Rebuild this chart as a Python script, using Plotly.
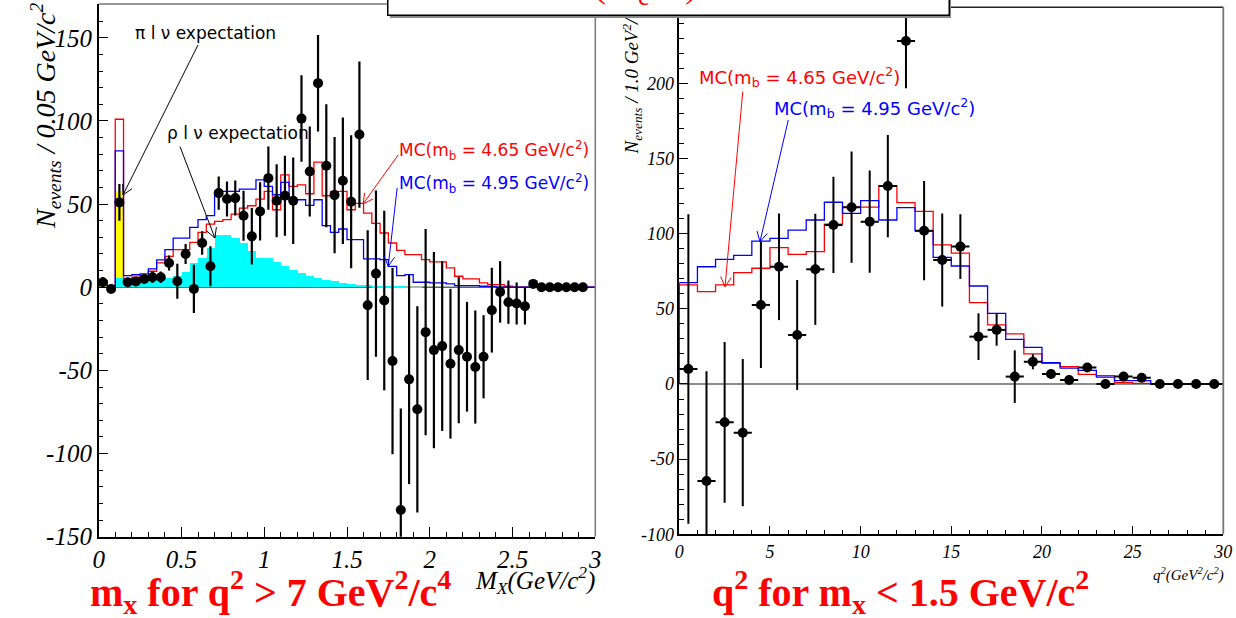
import numpy as np
import plotly.graph_objects as go

W, H = 1236, 618

# ---------------- data : left panel (M_X, 0.05 GeV bins) ----------------
mx_edges = [round(0.05 * i, 2) for i in range(61)]
mx_data = [3, -1, 51, 3, 3.4, 5, 6, 6, 14.6, 3.6,
           20, -1, 26.6, 12.6, 56.6, 53, 53.6, 43, 30.6, 45.6,
           65.6, 52, 55, 52, 101.4, 69.6, 122.7, 73, 55.4, 64,
           51.4, 91.8, -10.8, 8.2, -8, -44.4, -133.9, -55.4, -73.4, -27,
           -37.8, -35.4, -46, -37.8, -41.8, -48, -41.8, -13.8, -2.8, -9,
           -9.8, -11.4, 2, 0, 0, 0, 0, 0, 0, None]
mx_err = [3, 2, 11, 2, 2, 3, 3.5, 3.5, 4.5, 10.5,
          6, 14.5, 7, 12, 10, 10.5, 10.5, 15, 17, 17.5,
          19, 22, 24, 26, 26, 27, 29, 37, 35, 38,
          40, 44, 45, 50, 54, 56, 61, 63, 62, 62,
          59, 51, 45, 44, 33, 34, 25, 25.5, 18.5, 13,
          12.6, 11, 2, 1, 1, 1, 1, 1, 1, 0]
mx_red = [4, 1, 101, 5, 6, 7, 9.6, 14.6, 18.6, 22.6,
          22.6, 27, 33, 38, 39.6, 40.6, 44, 47.6, 49, 53,
          57.6, 46.6, 67.6, 60.6, 61.6, 56.2, 75.2, 55, 57.6, 57.6,
          46.6, 50.4, 44.6, 38.4, 32.6, 26.6, 22.2, 19.6, 19.6, 16.6,
          15.2, 15.2, 11.6, 6.6, 5, 5, 2.6, 1.6, 1.6, 0.6,
          0, 0, 0, 0, 0, 0, 0, 0, 0, 0]
mx_blue = [4, 1, 82, 7, 7.5, 8, 11, 16.5, 22.6, 29.5,
           29.5, 36, 40.6, 43, 57.6, 57.6, 57.6, 59, 59, 64.6,
           60.6, 55.6, 63, 52.6, 52.6, 49.2, 52.6, 37, 33, 35,
           28.6, 28.6, 17, 17, 16.6, 12.6, 7, 7.6, 3, 3,
           2.6, 2.6, 2, 1, 1, 1, 0.6, 0.5, 0, 0,
           0, 0, 0, 0, 0, 0, 0, 0, 0, 0]
mx_rho = [0, 0, 5.5, 5.5, 5.5, 5.5, 5.5, 5.5, 5.5, 7,
          9, 14.6, 17.7, 23.8, 31.6, 31.6, 29.6, 26.6, 21.6, 17.6,
          17.6, 15, 12.6, 10.6, 8.6, 7, 5.6, 4.6, 3.6, 2.6,
          2, 1.6, 1.2, 0.8, 0.5, 0.3, 0.2, 0.1, 0.1, 0,
          0, 0, 0, 0, 0, 0, 0, 0, 0, 0,
          0, 0, 0, 0, 0, 0, 0, 0, 0, 0]
mx_pi = [3, 0, 52.5] + [0] * 57

# ---------------- data : right panel (q^2, 1 GeV^2 bins) ----------------
q2_edges = list(range(31))
q2_data = [10, -64.5, -25.5, -32.4, 52.6, 78, 32.6, 76.3, 105.8, 117.6,
           108, 131.7, 228.2, 102, 82.5, 91.4, 31.5, 36, 4.9, 14.8,
           6.6, 2.7, 11, 0, 4.9, 4.2, 0, 0, 0, 0]
q2_err = [103, 73, 53.5, 49, 42, 35.5, 36.6, 37, 32, 37,
          34, 34, 31.5, 33, 31, 21.5, 15.5, 10.5, 17.5, 5,
          2, 1.5, 3, 0.5, 1, 1, 0, 0, 0, 0]
q2_red = [65.9, 61.5, 65.9, 74.1, 77, 90.7, 86.2, 88, 106.4, 117.6,
          117.6, 131.9, 120.6, 114.8, 92.6, 87.1, 54.1, 39.3, 33.3, 20,
          13.8, 11.5, 6.4, 5.6, 0.9, 0.4, 0, 0, 0, 0]
q2_blue = [67.4, 78, 82.9, 85.6, 95.1, 96.9, 102.4, 109.1, 120.9, 113.5,
           122, 109.1, 117.3, 101.9, 84.2, 78.5, 65.2, 47, 29.7, 24.4,
           14.2, 10.6, 9, 4.6, 2.2, 2.2, 0, 0, 0, 0]

# tick labels
mx_ticks = [0, 0.5, 1, 1.5, 2, 2.5, 3]
mx_ticktext = ["0", "0.5", "1", "1.5", "2", "2.5", "3"]
ny_ticks = [-150, -100, -50, 0, 50, 100, 150]
ny_ticktext = ["-150", "-100", "-50", "0", "50", "100", "150"]
q2_ticks = [0, 5, 10, 15, 20, 25, 30]
q2_ticktext = ["0", "5", "10", "15", "20", "25", "30"]
qy_ticks = [-100, -50, 0, 50, 100, 150, 200, 250]
qy_ticktext = ["-100", "-50", "0", "50", "100", "150", "200", "250"]

# ---------------- geometry ----------------
X1_DOM = [98.7 / W, 595.3 / W]
Y1_DOM = [1 - 536.7 / H, 1 - 4.0 / H]
X2_DOM = [679.3 / W, 1223.3 / W]
Y2_DOM = [1 - 534.3 / H, 1 - 7.3 / H]
X1_RNG = [0, 3]
Y1_RNG = [-150, 170.3]
X2_RNG = [0, 30]
Y2_RNG = [-100, 250.6]


def centers(edges):
    return [(a + b) / 2 for a, b in zip(edges[:-1], edges[1:])]


def step_xy(edges, vals):
    xs = [edges[0]] + list(edges)
    ys = [0] + list(vals) + [vals[-1]]
    return xs, ys


def to_px(v, dom, rng, horiz):
    f = dom[0] + (v - rng[0]) / (rng[1] - rng[0]) * (dom[1] - dom[0])
    return f * W if horiz else (1 - f) * H


def to_val(p, dom, rng, horiz):
    f = p / W if horiz else 1 - p / H
    return rng[0] + (f - dom[0]) / (dom[1] - dom[0]) * (rng[1] - rng[0])


def ital(lst):
    return ["<i>%s</i>" % s for s in lst]


fig = go.Figure()

# ---------------- left panel traces ----------------
mxc = centers(mx_edges)
fig.add_trace(go.Bar(x=mxc, y=mx_rho, width=0.05, marker=dict(color="#00FFFF", line=dict(width=0)),
                     xaxis="x", yaxis="y", hoverinfo="skip"))
fig.add_trace(go.Bar(x=mxc, y=mx_pi, base=mx_rho, width=0.05,
                     marker=dict(color="#FFFF00", line=dict(width=0)),
                     xaxis="x", yaxis="y", hoverinfo="skip"))
xs, ys = step_xy(mx_edges, mx_red)
fig.add_trace(go.Scatter(x=xs, y=ys, mode="lines", line=dict(color="#FF0000", width=1.3, shape="hv"),
                         xaxis="x", yaxis="y"))
xs, ys = step_xy(mx_edges, mx_blue)
fig.add_trace(go.Scatter(x=xs, y=ys, mode="lines", line=dict(color="#0000FF", width=1.3, shape="hv"),
                         xaxis="x", yaxis="y"))
fig.add_trace(go.Scatter(x=mxc, y=mx_data, mode="markers",
                         marker=dict(color="black", size=10),
                         error_y=dict(type="data", array=mx_err, color="black", thickness=2.2, width=0),
                         xaxis="x", yaxis="y"))

# ---------------- right panel traces ----------------
q2c = centers(q2_edges)
xs, ys = step_xy(q2_edges, q2_red)
fig.add_trace(go.Scatter(x=xs, y=ys, mode="lines", line=dict(color="#FF0000", width=1.3, shape="hv"),
                         xaxis="x2", yaxis="y2"))
xs, ys = step_xy(q2_edges, q2_blue)
fig.add_trace(go.Scatter(x=xs, y=ys, mode="lines", line=dict(color="#0000FF", width=1.3, shape="hv"),
                         xaxis="x2", yaxis="y2"))
fig.add_trace(go.Scatter(x=q2c, y=q2_data, mode="markers",
                         marker=dict(color="black", size=10),
                         error_y=dict(type="data", array=q2_err, color="black", thickness=2, width=0),
                         error_x=dict(type="constant", value=0.5, color="black", thickness=2, width=0),
                         xaxis="x2", yaxis="y2"))

tickfont_big = dict(family="Liberation Serif", size=25, color="black")
tickfont_small = dict(family="Liberation Serif", size=18, color="black")

common = dict(showgrid=False, ticks="inside", tickcolor="black", tickwidth=1,
              showline=True, linecolor="black", linewidth=1.5, zeroline=False,
              layer="above traces", automargin=False)

fig.update_layout(
    width=W, height=H, margin=dict(l=0, r=0, t=0, b=0, autoexpand=False),
    paper_bgcolor="white", plot_bgcolor="white", showlegend=False,
    barmode="overlay", bargap=0,
    xaxis=dict(domain=X1_DOM, range=X1_RNG, anchor="y", tickmode="array", tickvals=mx_ticks,
               ticktext=ital(mx_ticktext), ticklen=10, tickfont=tickfont_big,
               minor=dict(tickvals=[round(0.1 * i, 1) for i in range(31)], ticklen=5,
                          ticks="inside", tickcolor="black"), **common),
    yaxis=dict(domain=Y1_DOM, range=Y1_RNG, anchor="x", tickmode="array", tickvals=ny_ticks,
               ticktext=ital(ny_ticktext), ticklen=10, tickfont=tickfont_big,
               minor=dict(tickvals=list(range(-150, 171, 10)), ticklen=5,
                          ticks="inside", tickcolor="black"), **common),
    xaxis2=dict(domain=X2_DOM, range=X2_RNG, anchor="y2", tickmode="array", tickvals=q2_ticks,
                ticktext=ital(q2_ticktext), ticklen=9, tickfont=tickfont_small,
                minor=dict(tickvals=list(range(31)), ticklen=5, ticks="inside", tickcolor="black"),
                **common),
    yaxis2=dict(domain=Y2_DOM, range=Y2_RNG, anchor="x2", tickmode="array", tickvals=qy_ticks,
                ticktext=ital(qy_ticktext), ticklen=9, tickfont=tickfont_small,
                minor=dict(tickvals=list(range(-100, 251, 10)), ticklen=5, ticks="inside",
                           tickcolor="black"), **common),
)

shapes = []
# zero lines
shapes.append(dict(type="line", xref="x domain", yref="y", x0=0, x1=1, y0=0, y1=0,
                   line=dict(color="#4f6f4f", width=1.5), layer="below"))
shapes.append(dict(type="line", xref="x2 domain", yref="y2", x0=0, x1=1, y0=0, y1=0,
                   line=dict(color="#666666", width=1.5), layer="below"))
# frames (top / right)
shapes.append(dict(type="line", xref="x domain", yref="y domain", x0=0, x1=1, y0=1, y1=1,
                   line=dict(color="#777777", width=1.5)))
shapes.append(dict(type="line", xref="x domain", yref="y domain", x0=1, x1=1, y0=0, y1=1,
                   line=dict(color="#777777", width=1.5)))
shapes.append(dict(type="line", xref="x2 domain", yref="y2 domain", x0=0, x1=1, y0=1, y1=1,
                   line=dict(color="#222222", width=1.5)))
shapes.append(dict(type="line", xref="x2 domain", yref="y2 domain", x0=1, x1=1, y0=0, y1=1,
                   line=dict(color="#777777", width=1.8)))


def arrow(tail, tip, color, xa, ya):
    xdom, xrng, ydom, yrng = xa[0], xa[1], ya[0], ya[1]
    ax, ay = tail
    bx, by = tip
    shapes.append(dict(type="line", xref=xa[2], yref=ya[2], x0=ax, y0=ay, x1=bx, y1=by,
                       line=dict(color=color, width=1)))
    tx, ty = to_px(ax, xdom, xrng, True), to_px(ay, ydom, yrng, False)
    hx, hy = to_px(bx, xdom, xrng, True), to_px(by, ydom, yrng, False)
    dx, dy = tx - hx, ty - hy
    n = np.hypot(dx, dy)
    ux, uy = dx / n, dy / n
    for ang in (0.5, -0.5):
        c, s = np.cos(ang), np.sin(ang)
        vx, vy = ux * c - uy * s, ux * s + uy * c
        px, py = hx + 11 * vx, hy + 11 * vy
        shapes.append(dict(type="line", xref=xa[2], yref=ya[2], x0=bx, y0=by,
                           x1=to_val(px, xdom, xrng, True), y1=to_val(py, ydom, yrng, False),
                           line=dict(color=color, width=1)))


XA1 = (X1_DOM, X1_RNG, "x")
YA1 = (Y1_DOM, Y1_RNG, "y")
XA2 = (X2_DOM, X2_RNG, "x2")
YA2 = (Y2_DOM, Y2_RNG, "y2")
arrow((0.6, 145.7), (0.147, 55.5), "black", XA1, YA1)
arrow((0.491, 84.6), (0.702, 29.6), "black", XA1, YA1)
arrow((1.809, 79.5), (1.598, 50.2), "#FF0000", XA1, YA1)
arrow((1.803, 59.7), (1.749, 12.6), "#0000FF", XA1, YA1)
arrow((3.5, 194.5), (2.52, 64.7), "#FF0000", XA2, YA2)
arrow((6.01, 175.6), (4.45, 94.7), "#0000FF", XA2, YA2)
fig.update_layout(shapes=shapes)


def P(px, py):
    return px / W, 1 - py / H


ann = []


def text(px, py, s, size, color="black", family="DejaVu Sans", xanchor="left",
         yanchor="middle", angle=0, weight="normal"):
    x, y = P(px, py)
    ann.append(dict(x=x, y=y, xref="paper", yref="paper", text=s, showarrow=False,
                    xanchor=xanchor, yanchor=yanchor, textangle=angle,
                    font=dict(size=size, color=color, family=family, weight=weight)))


sans = "DejaVu Sans"
text(133, 33, "π l ν expectation", 17, family=sans)
text(165, 133, "ρ l ν expectation", 17, family=sans)
text(397, 150, "MC(m<sub>b</sub> = 4.65 GeV/c<sup>2</sup>)", 17, "#FF0000", sans)
text(397, 183, "MC(m<sub>b</sub> = 4.95 GeV/c<sup>2</sup>)", 17, "#0000FF", sans)
text(697, 77, "MC(m<sub>b</sub> = 4.65 GeV/c<sup>2</sup>)", 18, "#FF0000", sans)
text(772, 108, "MC(m<sub>b</sub> = 4.95 GeV/c<sup>2</sup>)", 18, "#0000FF", sans)

# axis titles
text(45, 116, "<i>N<sub>events</sub> / 0.05 GeV/c<sup>2</sup></i>", 28, family="Liberation Serif",
     xanchor="center", angle=-90)
text(632, 157, "<i>N<sub>events</sub> / 1.0 GeV<sup>2</sup>/c<sup>2</sup></i>", 19,
     family="Liberation Serif", xanchor="center", yanchor="bottom", angle=-90)
text(597, 580, "<i>M<sub>X</sub>(GeV/c<sup>2</sup>)</i>", 25, family="Liberation Serif",
     xanchor="right")
text(1226, 574, "<i>q<sup>2</sup>(GeV<sup>2</sup>/c<sup>2</sup>)</i>", 15, family="Liberation Serif",
     xanchor="right")

# big red captions
text(270, 592, "m<sub>x</sub> for q<sup>2</sup> &gt; 7 GeV<sup>2</sup>/c<sup>4</sup>", 40, "#FF0000",
     "Liberation Serif", xanchor="center", weight="bold")
text(900, 592, "q<sup>2</sup> for m<sub>x</sub> &lt; 1.5 GeV/c<sup>2</sup>", 40, "#FF0000",
     "Liberation Serif", xanchor="center", weight="bold")

# title box (top, mostly cut off)
bx0, bx1, by1 = 387, 950, 15.7
x, y = P(bx0 + 3, by1 + 2.5)
ann.append(dict(x=x, y=y, xref="paper", yref="paper", text="", showarrow=False,
                xanchor="left", yanchor="bottom", width=bx1 - bx0 - 2, height=60,
                bgcolor="#888888", borderwidth=0, borderpad=0))
x, y = P(bx0, by1)
ann.append(dict(x=x, y=y, xref="paper", yref="paper", text="", showarrow=False,
                xanchor="left", yanchor="bottom", width=bx1 - bx0 - 3, height=60,
                bgcolor="white", bordercolor="black", borderwidth=1.5, borderpad=0))
text(645, 12, "(M<sub>c</sub>&nbsp;&nbsp;&nbsp;&nbsp;)", 36, "#FF0000", "Liberation Serif",
     xanchor="center", yanchor="bottom")

fig.update_layout(annotations=ann)
fig.write_html(
    "out.html",
    config={"displayModeBar": False},
    post_script="document.body.style.margin='0';document.body.style.padding='0';"
                "document.body.style.overflow='hidden';",
)
